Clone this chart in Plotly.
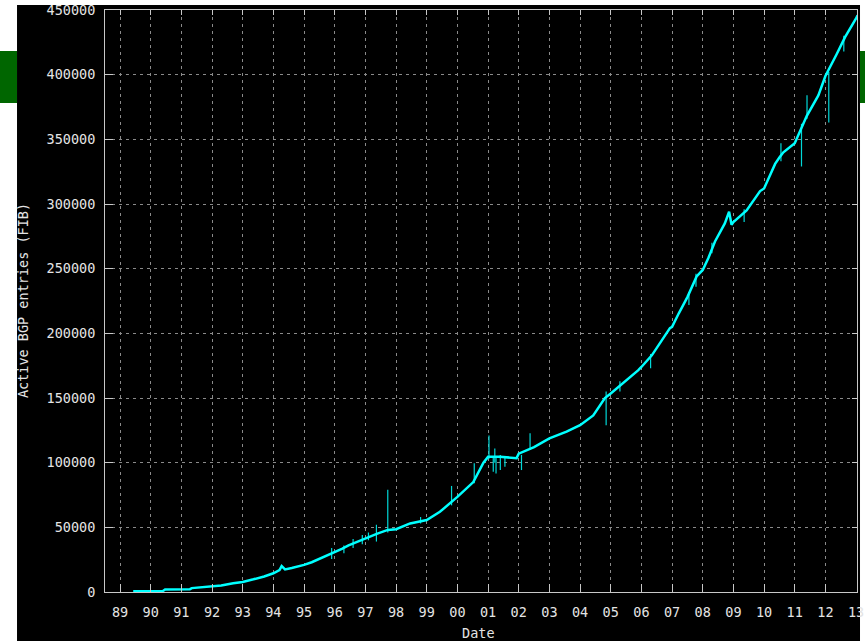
import plotly.graph_objects as go

# ---- data ----
years = [1989.43, 1990.40, 1990.47, 1991.28, 1991.34, 1991.93, 1992.30, 1992.69, 1993.00,
         1993.35, 1993.70, 1994.00, 1994.20, 1994.27, 1994.38, 1994.60, 1994.87, 1995.00,
         1995.25, 1995.50, 1995.75, 1996.00, 1996.25, 1996.45, 1996.75, 1997.00, 1997.37,
         1997.73, 1998.00, 1998.46, 1999.00, 1999.43, 1999.76, 2000.00, 2000.52, 2000.85,
         2001.00, 2001.39, 2001.93, 2002.00, 2002.50, 2002.91, 2003.00, 2003.56, 2004.00,
         2004.43, 2004.81, 2005.00, 2005.41, 2005.90, 2006.00, 2006.34, 2006.93, 2007.00,
         2007.22, 2007.50, 2007.80, 2008.00, 2008.18, 2008.40, 2008.72, 2008.86, 2008.94,
         2009.00, 2009.43, 2009.87, 2010.00, 2010.36, 2010.50, 2010.63, 2011.00, 2011.23,
         2011.39, 2011.77, 2012.00, 2012.37, 2012.64, 2013.00, 2013.05]
bgp_entries = [500, 800, 2000, 2200, 3000, 4000, 5000, 6700, 7800,
               9800, 12000, 14500, 17000, 20000, 17500, 18500, 19800, 21000,
               23000, 25500, 28500, 31000, 33500, 36000, 39000, 41500, 45000,
               48000, 48500, 53000, 55700, 62000, 68500, 73500, 85000, 100000,
               104500, 104500, 103500, 107000, 112000, 117500, 118800, 124000, 129000,
               136500, 150000, 153500, 161500, 171500, 174000, 183000, 204000, 205000,
               215500, 228000, 244000, 249000, 258000, 271000, 285000, 294000, 284000,
               286000, 295000, 310000, 312000, 331000, 336000, 340000, 347000, 359000,
               368000, 384000, 399000, 416000, 429000, 443500, 446000]

spike_years = [1995.90, 1996.30, 1996.60, 1996.90, 1997.10, 1997.36, 1997.73, 1998.80,
               1999.81, 2000.55, 2001.03, 2001.17, 2001.22, 2001.26, 2001.40, 2001.55,
               2002.09, 2002.37, 2004.85, 2005.30, 2006.30, 2007.55, 2007.78, 2008.30,
               2009.35, 2010.55, 2011.22, 2011.40, 2012.11, 2012.60]
spike_low = [25500, 30000, 34000, 37000, 40000, 39000, 46000, 53000,
             67000, 84000, 103000, 93000, 100000, 91700, 94300, 96900,
             94300, 110000, 129000, 155000, 173000, 222000, 236000, 262000,
             286000, 333000, 329000, 366000, 363000, 418000]
spike_high = [34000, 36000, 41000, 44000, 46000, 52000, 79000, 58000,
              82000, 99500, 121000, 104000, 111000, 104000, 106000, 105000,
              106000, 122700, 155000, 163000, 184000, 232000, 246000, 270000,
              296000, 347000, 362000, 384000, 402000, 430000]

tick_years = list(range(1989, 2014))
tick_labels = ["89", "90", "91", "92", "93", "94", "95", "96", "97", "98", "99", "00",
               "01", "02", "03", "04", "05", "06", "07", "08", "09", "10", "11", "12", "13"]
y_ticks = [0, 50000, 100000, 150000, 200000, 250000, 300000, 350000, 400000, 450000]
y_labels = [str(v) for v in y_ticks]

# ---- build figure ----
sx, sy = [], []
for x, lo, hi in zip(spike_years, spike_low, spike_high):
    sx += [x, x, None]
    sy += [lo, hi, None]

FONT = "DejaVu Sans Mono"
AX = "#c8c8c8"
TXT = "#e4e4e4"
XR = [1988.51, 2013.03]
YR = [0, 450000]

fig = go.Figure()
fig.add_trace(go.Scatter(x=sx, y=sy, mode="lines", line=dict(color="#00d8d8", width=1.2),
                         hoverinfo="skip", showlegend=False))
fig.add_trace(go.Scatter(x=years, y=bgp_entries, mode="lines",
                         line=dict(color="#00ffff", width=2.5), showlegend=False))
# invisible trace for mirror axes
fig.add_trace(go.Scatter(x=[XR[0]], y=[0], xaxis="x2", yaxis="y2", mode="markers",
                         marker=dict(opacity=0), showlegend=False, hoverinfo="skip"))

common = dict(showline=True, linecolor=AX, linewidth=1, ticks="inside", tickcolor=AX,
              tickwidth=1, zeroline=False, automargin=False,
              tickfont=dict(family=FONT, size=13.5, color=TXT))

fig.update_layout(
    width=865, height=641, autosize=False,
    margin=dict(l=105, r=8, t=10, b=49, pad=0),
    paper_bgcolor="white", plot_bgcolor="black",
    xaxis=dict(range=XR, tickmode="array", tickvals=tick_years, ticktext=tick_labels,
               ticklen=8, showgrid=True, gridcolor="#8a8a8a", gridwidth=1,
               griddash="3px,4px", mirror=True, ticklabelstandoff=8, **common),
    yaxis=dict(range=YR, tickmode="array", tickvals=y_ticks, ticktext=y_labels,
               ticklen=8, showgrid=True, gridcolor="#8a8a8a", gridwidth=1,
               griddash="3px,4px", mirror=True, ticklabelstandoff=6, **common),
    xaxis2=dict(range=XR, overlaying="x", side="top", tickmode="array",
                tickvals=tick_years, ticks="inside", ticklen=5, tickcolor=AX,
                showticklabels=False, showgrid=False, showline=False, zeroline=False,
                automargin=False),
    yaxis2=dict(range=YR, overlaying="y", side="right", tickmode="array",
                tickvals=y_ticks, ticks="inside", ticklen=5, tickcolor=AX,
                showticklabels=False, showgrid=False, showline=False, zeroline=False,
                automargin=False),
    shapes=[
        dict(type="rect", xref="paper", yref="paper", x0=-0.1170, x1=1.0040,
             y0=-0.10, y1=1.0086, fillcolor="black", line=dict(width=0), layer="below"),
        dict(type="rect", xref="paper", yref="paper", x0=-0.1400, x1=-0.1170,
             y0=0.8402, y1=0.9296, fillcolor="#006600", line=dict(width=0), layer="below"),
        dict(type="rect", xref="paper", yref="paper", x0=1.0040, x1=1.0130,
             y0=0.8402, y1=0.9296, fillcolor="#006600", line=dict(width=0), layer="below"),
    ],
    annotations=[
        dict(text="Active BGP entries (FIB)", xref="paper", yref="paper",
             x=-0.109, y=0.5, xanchor="center", yanchor="middle", textangle=-90,
             showarrow=False, font=dict(family=FONT, size=13.5, color=TXT)),
        dict(text="Date", xref="paper", yref="paper", x=0.497, y=-0.0705,
             xanchor="center", yanchor="middle", showarrow=False,
             font=dict(family=FONT, size=13.5, color=TXT)),
    ],
)

fig.write_html("out.html", config={"displayModeBar": False},
               post_script="document.body.style.margin='0';document.body.style.overflow='hidden';")
